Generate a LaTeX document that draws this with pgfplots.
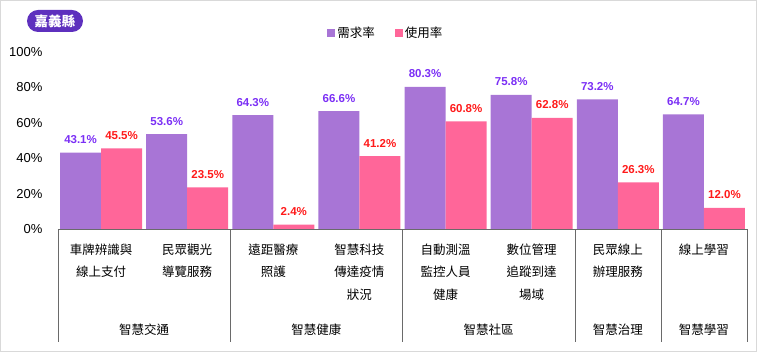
\documentclass[border=0pt]{standalone}
\usepackage{pgfplots}
\pgfplotsset{compat=1.18}
\usepackage{fontspec}
\setmainfont{Liberation Sans}
\newfontfamily\cjk{Noto Sans CJK TC}
\definecolor{barP}{HTML}{A875D6}
\definecolor{barR}{HTML}{FF6699}
\definecolor{labP}{HTML}{7B2FF5}
\definecolor{labR}{HTML}{FF1A1A}
\definecolor{badge}{HTML}{5E30BE}
\definecolor{sep}{HTML}{6A6A6A}
\definecolor{frame}{HTML}{D9D9D9}
\begin{document}
\begin{tikzpicture}
\useasboundingbox (-58pt,-123pt) rectangle (699pt,229pt);
\draw[frame,line width=1pt] (-57.5pt,-122.5pt) rectangle (698.5pt,228.5pt);
\node[fill=badge,rounded corners=11pt,minimum width=56pt,minimum height=22pt,inner sep=0pt,text=white,font=\cjk\bfseries\fontsize{13.5}{16}\selectfont] at (-3pt,208pt) {嘉義縣};
\begin{axis}[
  scale only axis,
  width=689pt, height=177pt,
  xmin=-0.5, xmax=7.5, ymin=0, ymax=100,
  axis line style={draw=none},
  clip=false,
  ybar=0pt, bar width=41pt,
  xtick={0,...,7},
  xticklabels={{車牌辨識與\\線上支付},{民眾觀光\\導覽服務},{遠距醫療\\照護},{智慧科技\\傳達疫情\\狀況},{自動測溫\\監控人員\\健康},{數位管理\\追蹤到達\\場域},{民眾線上\\辦理服務},{線上學習}},
  xticklabel style={align=center,font=\cjk\fontsize{12.5}{22.5}\selectfont,anchor=north,yshift=-11pt},
  major tick length=0pt,
  ytick={0,20,40,60,80,100},
  yticklabels={0\%,20\%,40\%,60\%,80\%,100\%},
  yticklabel style={font=\fontsize{13}{15}\selectfont,anchor=east},
  ytick style={draw=none},
  y tick label style={xshift=-12pt},
  legend style={at={(0.476,1.107)},anchor=center,draw=none,fill=none,legend columns=2,
    font=\cjk\fontsize{12.5}{15}\selectfont,
    /tikz/every even column/.append style={column sep=18pt}},
  legend image code/.code={\fill[#1] (0pt,-4pt) rectangle (8pt,4pt);},
  /pgf/number format/assume math mode=true,
  nodes near coords={\pgfmathprintnumber[fixed,precision=1,fixed zerofill,assume math mode=true]{\pgfplotspointmeta}\%},
  every node near coord/.append style={anchor=center,yshift=13pt,font=\bfseries\fontsize{11.5}{13}\selectfont},
]
\addplot[fill=barP,draw=none,every node near coord/.append style={text=labP}] coordinates {(0,43.1) (1,53.6) (2,64.3) (3,66.6) (4,80.3) (5,75.8) (6,73.2) (7,64.7)};
\addplot[fill=barR,draw=none,every node near coord/.append style={text=labR}] coordinates {(0,45.5) (1,23.5) (2,2.4) (3,41.2) (4,60.8) (5,62.8) (6,26.3) (7,12.0)};
\legend{需求率,使用率}
\draw[sep] (rel axis cs:0,0) -- (rel axis cs:1,0);
\draw[sep] (axis cs:-0.5,0) -- ([yshift=-113pt]axis cs:-0.5,0);
\draw[sep] (axis cs:1.5,0) -- ([yshift=-113pt]axis cs:1.5,0);
\draw[sep] (axis cs:3.5,0) -- ([yshift=-113pt]axis cs:3.5,0);
\draw[sep] (axis cs:5.5,0) -- ([yshift=-113pt]axis cs:5.5,0);
\draw[sep] (axis cs:6.5,0) -- ([yshift=-113pt]axis cs:6.5,0);
\draw[sep] (axis cs:7.5,0) -- ([yshift=-113pt]axis cs:7.5,0);
\node[font=\cjk\fontsize{12.5}{15}\selectfont] at ([yshift=-101pt]axis cs:0.5,0) {智慧交通};
\node[font=\cjk\fontsize{12.5}{15}\selectfont] at ([yshift=-101pt]axis cs:2.5,0) {智慧健康};
\node[font=\cjk\fontsize{12.5}{15}\selectfont] at ([yshift=-101pt]axis cs:4.5,0) {智慧社區};
\node[font=\cjk\fontsize{12.5}{15}\selectfont] at ([yshift=-101pt]axis cs:6,0) {智慧治理};
\node[font=\cjk\fontsize{12.5}{15}\selectfont] at ([yshift=-101pt]axis cs:7,0) {智慧學習};
\end{axis}
\end{tikzpicture}
\end{document}
